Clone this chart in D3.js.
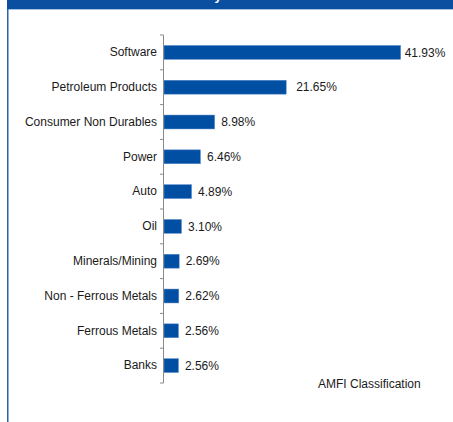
<!DOCTYPE html>
<html>
<head>
<meta charset="utf-8">
<script src="https://cdn.jsdelivr.net/npm/d3@7"></script>
<style>
  html, body { margin: 0; padding: 0; background: #fff; }
  svg { display: block; font-family: "Liberation Sans", Arial, sans-serif; }
</style>
</head>
<body>
<svg id="chart" width="453" height="422"></svg>
<script>
// Industry allocation (% of net assets)
const categories = [
  "Software", "Petroleum Products", "Consumer Non Durables", "Power", "Auto",
  "Oil", "Minerals/Mining", "Non - Ferrous Metals", "Ferrous Metals", "Banks"
];
const values = [41.93, 21.65, 8.98, 6.46, 4.89, 3.10, 2.69, 2.62, 2.56, 2.56];
const valueLabels = ["41.93%", "21.65%", "8.98%", "6.46%", "4.89%", "3.10%", "2.69%", "2.62%", "2.56%", "2.56%"];
const labelGap = [4, 10, 6.5, 6.5, 6.5, 6.5, 6.5, 6.5, 6.5, 6.5];

const W = 453, H = 422;
const blue = "#004fa2";
const svg = d3.select("#chart");

// panel frame: header band and left rule
svg.append("rect").attr("x", 7).attr("y", 0).attr("width", W - 7).attr("height", 9).attr("fill", "#0b4fa1");
svg.append("rect").attr("x", 7).attr("y", 9).attr("width", W - 7).attr("height", 1).attr("fill", "#a8c2e4");
svg.append("rect").attr("x", 7).attr("y", 9).attr("width", 1.5).attr("height", H - 9).attr("fill", "#2b63ad");

// panel title (sits in the header band)
svg.append("text")
  .attr("x", 229).attr("y", -0.5)
  .attr("text-anchor", "middle")
  .attr("fill", "#fff")
  .attr("font-weight", "bold")
  .attr("font-size", 13)
  .text("Industry Allocation");

const x = d3.scaleLinear().domain([0, 45]).range([164, 418]);
const y = d3.scaleBand().domain(categories).range([35, 383]).paddingInner(0.6).paddingOuter(0.3);

// bars
svg.append("g").selectAll("rect")
  .data(categories)
  .join("rect")
  .attr("x", x(0))
  .attr("y", d => y(d))
  .attr("width", (d, i) => x(values[i]) - x(0))
  .attr("height", y.bandwidth())
  .attr("fill", blue)
  .attr("stroke", "#5f8fcc")
  .attr("stroke-width", 0.5);

// value labels
svg.append("g").selectAll("text")
  .data(categories)
  .join("text")
  .attr("x", (d, i) => x(values[i]) + labelGap[i])
  .attr("y", d => y(d) + y.bandwidth() / 2)
  .attr("dy", "0.35em")
  .attr("font-size", 12)
  .attr("fill", "#1a1a1a")
  .text((d, i) => valueLabels[i]);

// category axis: labels from d3.axisLeft, boundary ticks drawn separately
const axis = svg.append("g")
  .attr("transform", `translate(${x(0) - 1},0)`)
  .call(d3.axisLeft(y).tickSize(0).tickPadding(6));
axis.select(".domain").remove();
axis.selectAll("text").attr("font-size", 12).attr("fill", "#1a1a1a")
  .attr("font-family", "'Liberation Sans', Arial, sans-serif");

const [y0, y1] = y.range();
const step = y.step();
const axisX = x(0) - 0.5;
svg.append("line")
  .attr("x1", axisX).attr("x2", axisX)
  .attr("y1", y0).attr("y2", y1)
  .attr("stroke", "#8a8a8a").attr("stroke-width", 1);
svg.append("g").selectAll("line")
  .data(d3.range(categories.length + 1))
  .join("line")
  .attr("x1", axisX - 3.5).attr("x2", axisX)
  .attr("y1", i => y0 + i * step).attr("y2", i => y0 + i * step)
  .attr("stroke", "#8a8a8a").attr("stroke-width", 1);

// source note
svg.append("text")
  .attr("x", 318).attr("y", 388)
  .attr("font-size", 12)
  .attr("fill", "#1a1a1a")
  .text("AMFI Classification");
</script>
</body>
</html>
